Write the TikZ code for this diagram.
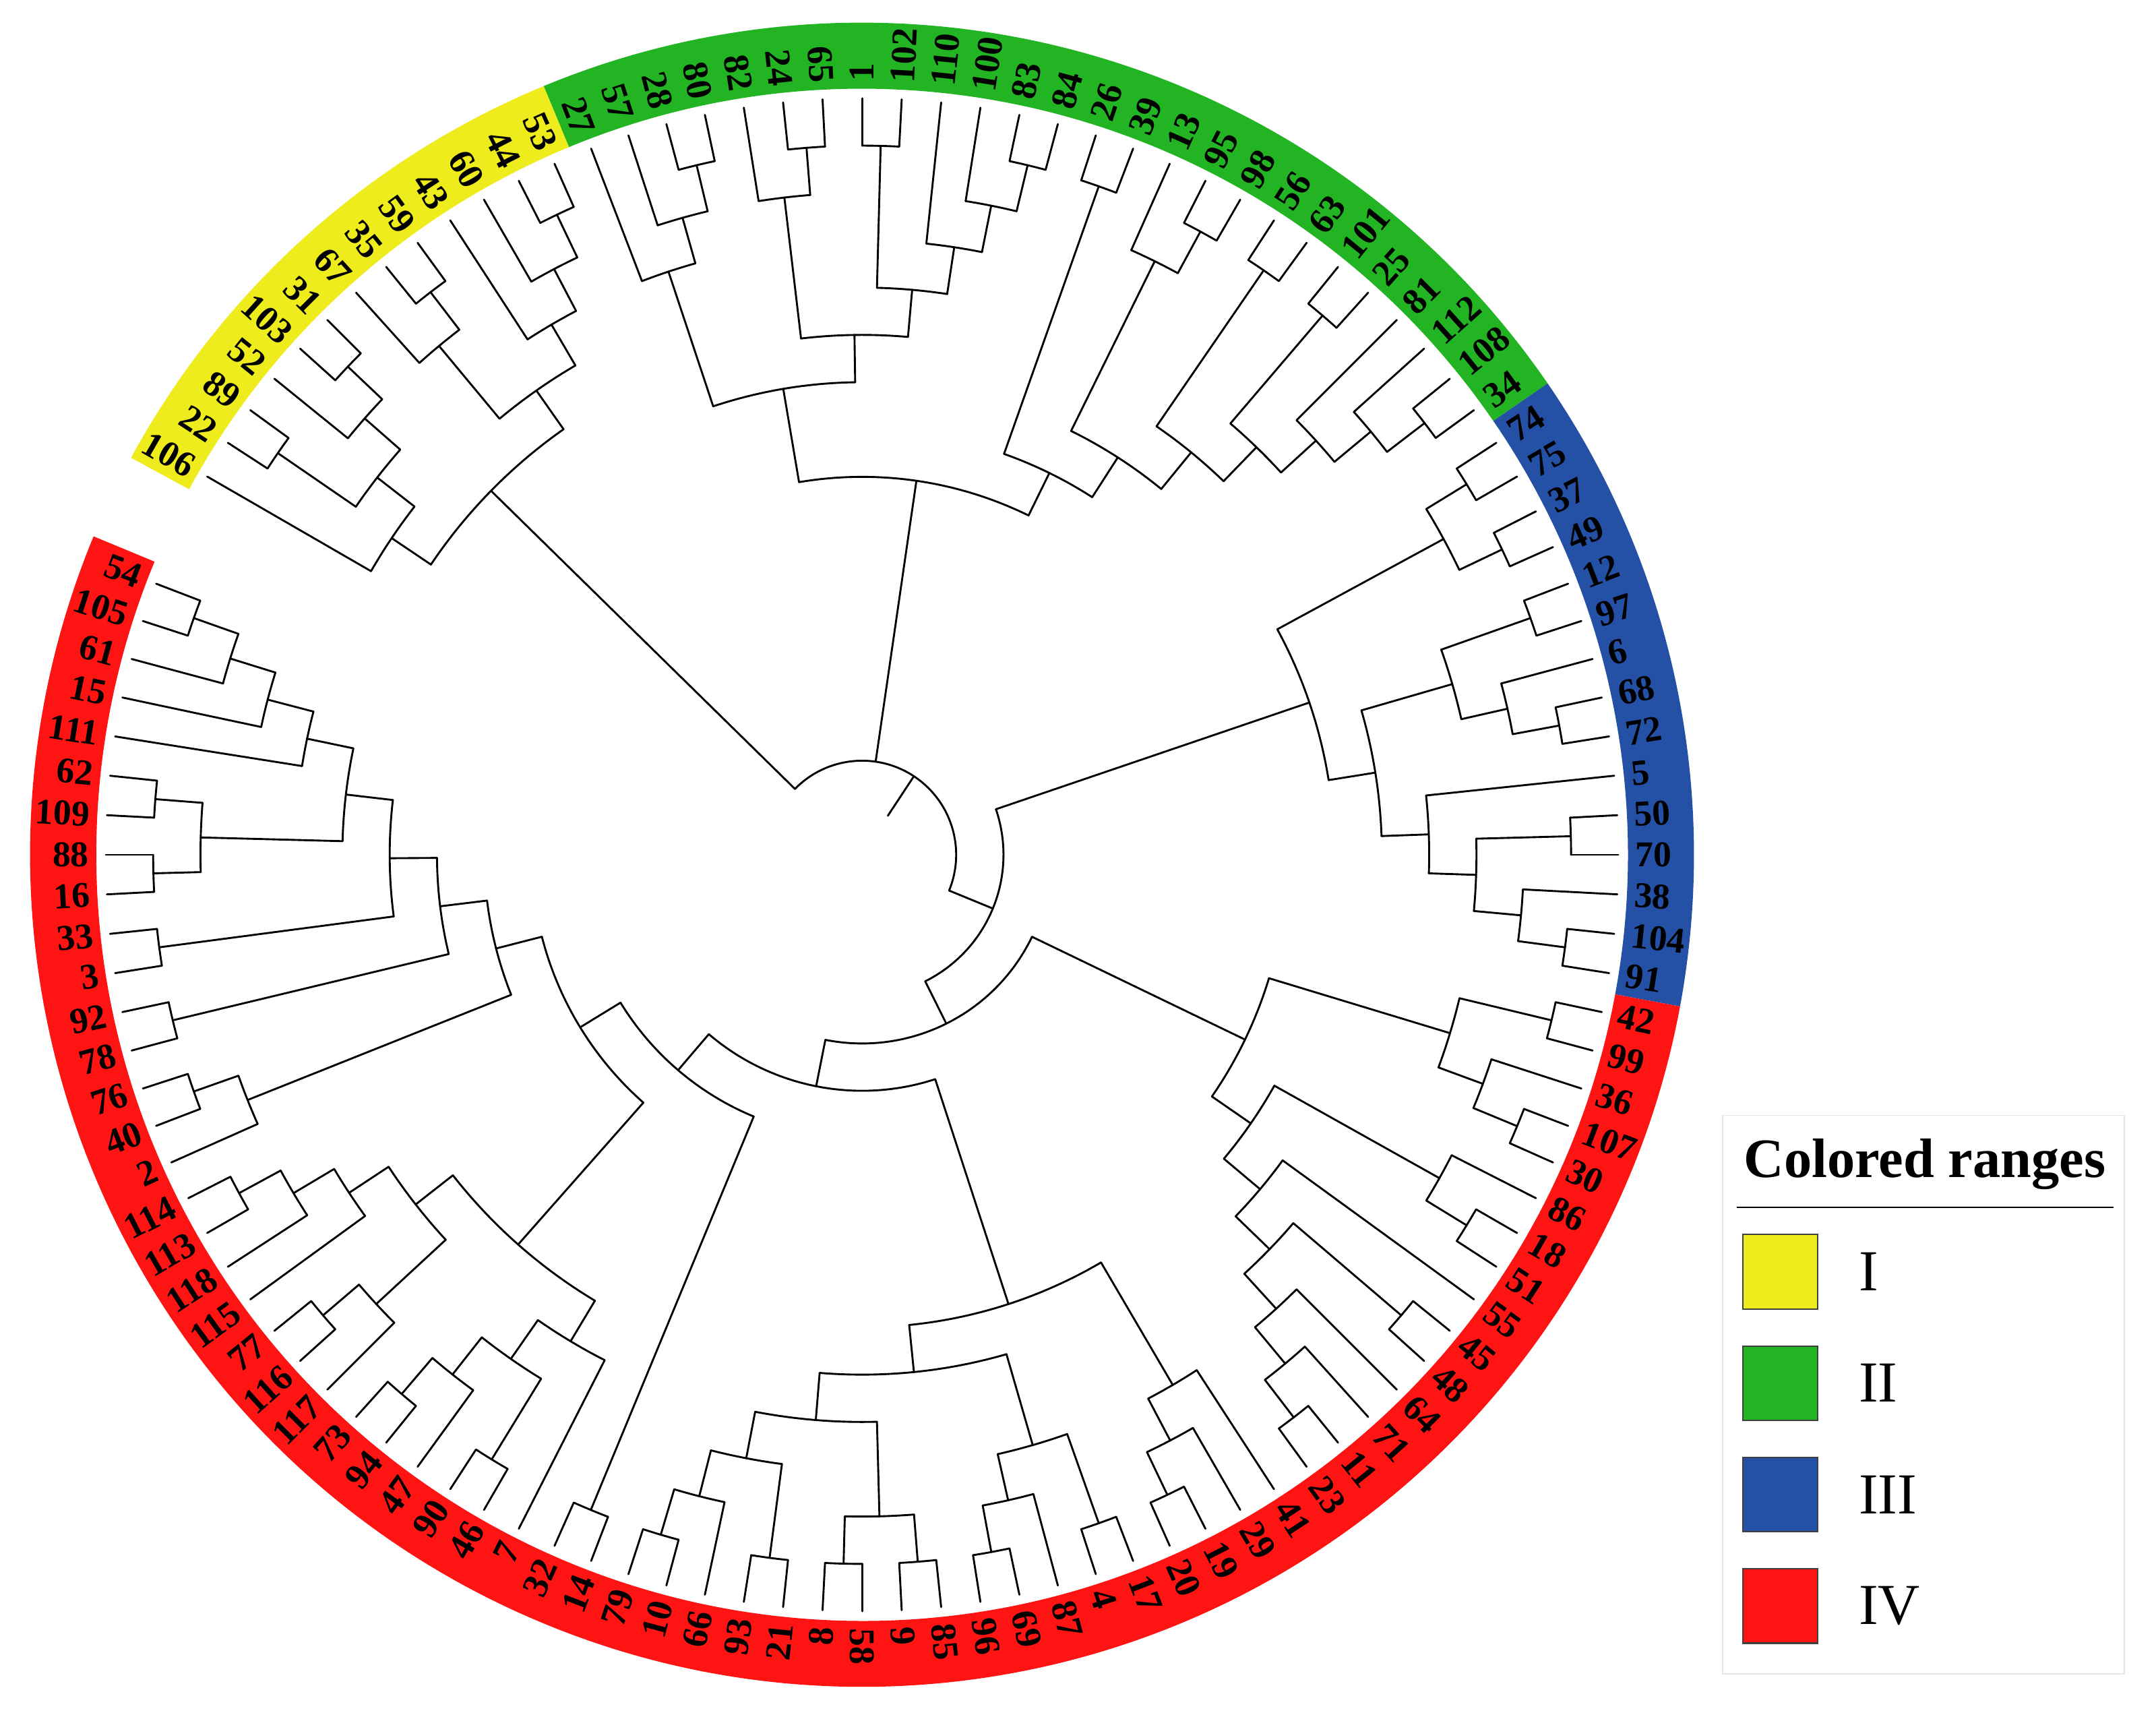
\documentclass[tikz,border=0pt]{standalone}
\usepackage{fontspec}
\setmainfont{Liberation Serif}
\usepackage{tikz}
\usetikzlibrary{positioning}

\definecolor{rangeI}{RGB}{238,236,28}
\definecolor{rangeII}{RGB}{34,180,34}
\definecolor{rangeIII}{RGB}{36,80,166}
\definecolor{rangeIV}{RGB}{255,20,20}

\tikzstyle{branch}=[draw, line width=0.8pt, line cap=round]
\tikzstyle{leaflabel}=[inner sep=0pt, font=\fontsize{15}{15}\selectfont\bfseries]
\tikzstyle{legendtitle}=[inner sep=0pt, font=\fontsize{23}{25}\selectfont\bfseries]
\tikzstyle{legendtext}=[inner sep=0pt, font=\fontsize{24}{26}\selectfont]
\tikzstyle{swatch}=[draw=black!75, line width=0.6pt, minimum width=1.088cm, minimum height=1.082cm, inner sep=0pt]

% leaf radius and depth step of the cladogram
\newcommand\leafR{550}
\newcommand\stepR{34.4}
\newcommand\angof[1]{\csname ang-#1\endcsname}

% \clade{name}{height}{children}: arc at the node radius, radial lines to the children
\newcommand\clade[3]{%
  \pgfmathsetmacro\crad{\leafR-#2*\stepR}%
  \global\let\cfirst\relax
  \foreach \kid in {#3}{%
    \ifx\cfirst\relax \xdef\cfirst{\angof{\kid}}\fi
    \xdef\clast{\angof{\kid}}%
    \draw[branch] (n\kid) -- (\angof{\kid}:\crad);
  }%
  \pgfmathsetmacro\cang{(\cfirst+\clast)/2}%
  \draw[branch] (\cfirst:\crad) arc[start angle=\cfirst, end angle=\clast, radius=\crad];
  \expandafter\xdef\csname ang-#1\endcsname{\cang}%
  \coordinate (n#1) at (\cang:\crad);
}

\begin{document}
\begin{tikzpicture}[x=0.02cm, y=0.02cm]
    \useasboundingbox (-627,-626.5) rectangle (941,621.5);

    % Colored ranges round the tree
    \foreach \sa/\ea/\col in {151.5/112.5/rangeI, 112.5/34.5/rangeII, 34.5/-10.5/rangeIII, -10.5/-202.5/rangeIV}
        \fill[\col] (\sa:557) arc[start angle=\sa, end angle=\ea, radius=557]
            -- (\ea:605) arc[start angle=\ea, end angle=\sa, radius=605] -- cycle;

    % Leaves, clockwise, 3 degrees apart
    \foreach \name [count=\i from 0] in {106,22,89,52,103,31,67,35,59,43,60,44,53,
        27,57,28,80,82,24,65,1,102,110,100,83,84,26,39,13,95,98,56,63,101,25,81,112,108,34,
        74,75,37,49,12,97,6,68,72,5,50,70,38,104,91,
        42,99,36,107,30,86,18,51,55,45,48,64,71,11,23,41,29,19,20,17,4,87,69,96,85,9,58,8,
        21,93,66,10,79,14,32,7,46,90,47,94,73,117,116,77,115,118,113,114,2,40,76,78,92,3,
        33,16,88,109,62,111,15,61,105,54}{
        \pgfmathsetmacro\lang{150-3*\i}
        \expandafter\xdef\csname ang-\name\endcsname{\lang}
        \coordinate (n\name) at (\lang:\leafR);
        \ifdim\lang pt>90pt \def\anc{east}\pgfmathsetmacro\rot{\lang+180}%
        \else\ifdim\lang pt<-90pt \def\anc{east}\pgfmathsetmacro\rot{\lang+180}%
        \else\def\anc{west}\let\rot\lang\fi\fi
        \node[leaflabel, rotate=\rot, anchor=\anc] (t\name) at (\lang:562) {\name};
    }

    % Group I
    \clade{ya}{1}{22,89}
    \clade{yb}{1}{103,31}
    \clade{yc}{2}{52,yb}
    \clade{yd}{3}{ya,yc}
    \clade{ye}{4}{106,yd}
    \clade{yf}{1}{35,59}
    \clade{yg}{2}{67,yf}
    \clade{yh}{1}{44,53}
    \clade{yi}{2}{60,yh}
    \clade{yj}{3}{43,yi}
    \clade{yk}{4}{yg,yj}
    \clade{yroot}{5}{ye,yk}

    % Group II
    \clade{ga}{1}{28,80}
    \clade{gb}{2}{57,ga}
    \clade{gc}{3}{27,gb}
    \clade{gd}{1}{24,65}
    \clade{ge}{2}{82,gd}
    \clade{gf}{1}{1,102}
    \clade{gg}{1}{83,84}
    \clade{gh}{2}{100,gg}
    \clade{gi}{3}{110,gh}
    \clade{gj}{4}{gf,gi}
    \clade{gk}{5}{ge,gj}
    \clade{gl}{6}{gc,gk}
    \clade{gm}{1}{26,39}
    \clade{gn}{1}{95,98}
    \clade{go}{2}{13,gn}
    \clade{gp}{1}{56,63}
    \clade{gq}{1}{101,25}
    \clade{gr}{1}{108,34}
    \clade{gs}{2}{112,gr}
    \clade{gt}{3}{81,gs}
    \clade{gu}{4}{gq,gt}
    \clade{gv}{5}{gp,gu}
    \clade{gw}{6}{go,gv}
    \clade{gx}{7}{gm,gw}
    \clade{groot}{8}{gl,gx}

    % Group III
    \clade{ba}{1}{74,75}
    \clade{bb}{1}{37,49}
    \clade{bc}{2}{ba,bb}
    \clade{bd}{1}{12,97}
    \clade{be}{1}{68,72}
    \clade{bf}{2}{6,be}
    \clade{bg}{3}{bd,bf}
    \clade{bh}{1}{50,70}
    \clade{bi}{1}{104,91}
    \clade{bj}{2}{38,bi}
    \clade{bk}{3}{bh,bj}
    \clade{bl}{4}{5,bk}
    \clade{bm}{5}{bg,bl}
    \clade{broot}{6}{bc,bm}

    % Group IV, right part
    \clade{ra}{1}{42,99}
    \clade{rb}{1}{107,30}
    \clade{rc}{2}{36,rb}
    \clade{rd}{3}{ra,rc}
    \clade{re}{1}{18,51}
    \clade{rf}{2}{86,re}
    \clade{rg}{1}{45,48}
    \clade{rh}{1}{11,23}
    \clade{ri}{2}{71,rh}
    \clade{rj}{3}{64,ri}
    \clade{rk}{4}{rg,rj}
    \clade{rl}{5}{55,rk}
    \clade{rm}{6}{rf,rl}
    \clade{rn}{7}{rd,rm}
    % Group IV, bottom part
    \clade{sa}{1}{79,10}
    \clade{sb}{2}{sa,66}
    \clade{sc}{1}{93,21}
    \clade{sd}{3}{sb,sc}
    \clade{se}{1}{8,58}
    \clade{sf}{1}{9,85}
    \clade{sg}{2}{se,sf}
    \clade{sh}{4}{sd,sg}
    \clade{si}{1}{96,69}
    \clade{sj}{2}{si,87}
    \clade{sk}{1}{4,17}
    \clade{sl}{3}{sj,sk}
    \clade{sm}{5}{sh,sl}
    \clade{sn}{1}{20,19}
    \clade{so}{2}{sn,29}
    \clade{sp}{3}{41,so}
    \clade{sq}{6}{sm,sp}
    % Group IV, left part
    \clade{ta}{1}{54,105}
    \clade{tb}{2}{61,ta}
    \clade{tc}{3}{15,tb}
    \clade{td}{4}{111,tc}
    \clade{te}{1}{62,109}
    \clade{tf}{1}{88,16}
    \clade{tg}{2}{te,tf}
    \clade{th}{5}{td,tg}
    \clade{ti}{1}{33,3}
    \clade{tj}{6}{th,ti}
    \clade{tk}{1}{92,78}
    \clade{tl}{7}{tj,tk}
    \clade{tm}{1}{76,40}
    \clade{tn}{2}{tm,2}
    \clade{to}{8}{tl,tn}
    \clade{tp}{1}{114,113}
    \clade{tq}{2}{tp,118}
    \clade{tr}{3}{tq,115}
    \clade{ts}{1}{77,116}
    \clade{tt}{2}{ts,117}
    \clade{tu}{4}{tr,tt}
    \clade{tv}{1}{73,94}
    \clade{tw}{2}{tv,47}
    \clade{tx}{1}{90,46}
    \clade{ty}{3}{tw,tx}
    \clade{tz}{4}{ty,7}
    \clade{ua}{5}{tu,tz}
    \clade{ub}{9}{to,ua}
    \clade{uc}{1}{32,14}
    \clade{ud}{10}{ub,uc}
    \clade{ue}{11}{sq,ud}
    \clade{rroot}{12}{rn,ue}

    % Backbone
    \clade{br}{13}{broot,rroot}
    \clade{root}{14}{yroot,groot,br}
    \draw[branch] (nroot) -- (\angof{root}:34);

    % Legend
    \draw[black!10, line width=0.5pt] (626,-189.5) rectangle (918,-595.5);
    \node[legendtitle, anchor=base] (ltitle) at (773,-234.5) {Colored ranges};
    \draw[line width=0.6pt] (636,-256.5) -- (910,-256.5);
    \foreach \col/\txt [count=\k from 0] in {rangeI/I, rangeII/II, rangeIII/III, rangeIV/IV}{
        \node[swatch, fill=\col] (sw\k) at (667.8,-303.2-81*\k) {};
        \node[legendtext, right=0.58cm of sw\k] (lab\k) {\txt};
    }
\end{tikzpicture}
\end{document}
